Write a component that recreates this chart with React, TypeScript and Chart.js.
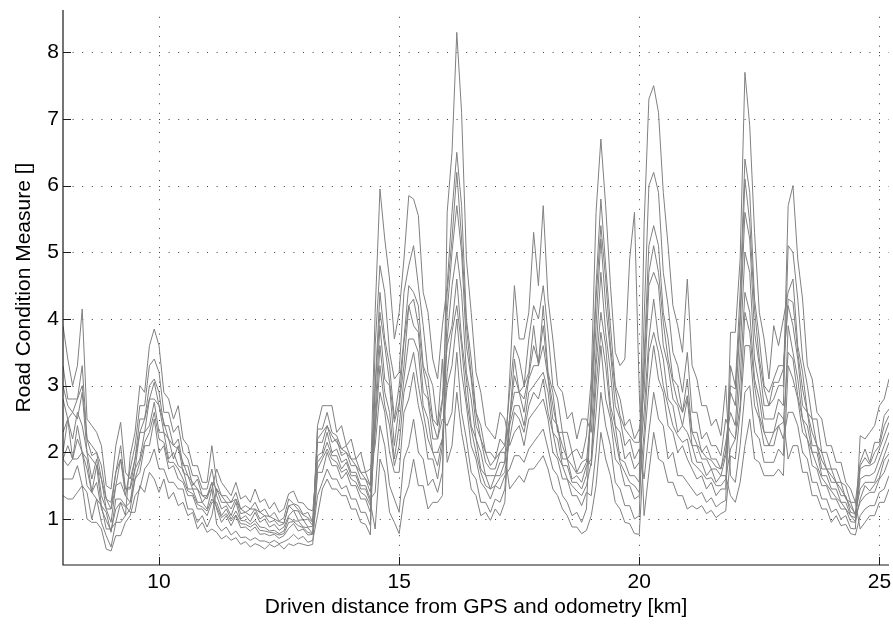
import React, { useEffect, useRef } from "react";
import { Chart, registerables } from "chart.js";

Chart.register(...registerables);

// Distance along the road [km]
const DIST: number[] = [
  8.0, 8.1, 8.2, 8.3, 8.4, 8.5, 8.6, 8.7, 8.8, 8.9,
  9.0, 9.1, 9.2, 9.3, 9.4, 9.5, 9.6, 9.7, 9.8, 9.9,
  10.0, 10.1, 10.2, 10.3, 10.4, 10.5, 10.6, 10.7, 10.8, 10.9,
  11.0, 11.1, 11.2, 11.3, 11.4, 11.5, 11.6, 11.7, 11.8, 11.9,
  12.0, 12.1, 12.2, 12.3, 12.4, 12.5, 12.6, 12.7, 12.8, 12.9,
  13.0, 13.1, 13.2, 13.3, 13.4, 13.5, 13.6, 13.7, 13.8, 13.9,
  14.0, 14.1, 14.2, 14.3, 14.4, 14.5, 14.6, 14.7, 14.8, 14.9,
  15.0, 15.1, 15.2, 15.3, 15.4, 15.5, 15.6, 15.7, 15.8, 15.9,
  16.0, 16.1, 16.2, 16.3, 16.4, 16.5, 16.6, 16.7, 16.8, 16.9,
  17.0, 17.1, 17.2, 17.3, 17.4, 17.5, 17.6, 17.7, 17.8, 17.9,
  18.0, 18.1, 18.2, 18.3, 18.4, 18.5, 18.6, 18.7, 18.8, 18.9,
  19.0, 19.1, 19.2, 19.3, 19.4, 19.5, 19.6, 19.7, 19.8, 19.9,
  20.0, 20.1, 20.2, 20.3, 20.4, 20.5, 20.6, 20.7, 20.8, 20.9,
  21.0, 21.1, 21.2, 21.3, 21.4, 21.5, 21.6, 21.7, 21.8, 21.9,
  22.0, 22.1, 22.2, 22.3, 22.4, 22.5, 22.6, 22.7, 22.8, 22.9,
  23.0, 23.1, 23.2, 23.3, 23.4, 23.5, 23.6, 23.7, 23.8, 23.9,
  24.0, 24.1, 24.2, 24.3, 24.4, 24.5, 24.6, 24.7, 24.8, 24.9,
  25.0, 25.1, 25.2,
];

// Road condition measure, one array per drive
const RUN1: number[] = [
  2.0, 2.5, 1.9, 2.4, 2.0, 1.9, 1.4, 1.8, 1.2, 1.1, 0.8, 1.3, 1.3, 1.2,
  1.1, 1.1, 1.5, 1.4, 1.7, 1.6, 1.4, 1.6, 1.3, 1.4, 1.2, 1.25, 1.05, 1.1, 0.85, 0.95, 0.8, 0.85,
  0.8, 0.7, 0.75, 0.68, 0.72, 0.62, 0.66, 0.58, 0.63, 0.6, 0.55, 0.62, 0.58, 0.62, 0.55, 0.63, 0.6, 0.64, 0.62, 0.6, 0.62,
  1.7, 1.7, 2.0, 1.8, 1.8, 1.6, 1.7, 1.5, 1.5, 1.3, 1.3, 1.1,
  2.6, 3.9, 3.1, 3.0, 2.1, 2.7, 3.3, 4.2, 3.9, 3.8, 2.9, 2.8, 2.2, 2.2, 2.5,
  2.4, 2.6, 3.5, 2.6, 2.2, 1.7, 1.6, 1.25, 1.25, 1.1, 1.3, 1.25, 1.45,
  2.5, 3.4, 2.9, 3.0, 3.2, 3.9, 3.3, 4.2, 3.2, 2.9, 2.3, 2.3, 1.9, 2.0, 1.7, 1.85, 1.9,
  1.8, 2.6, 3.6, 2.8, 2.5, 1.9, 1.8, 1.5, 1.5, 1.3, 1.35,
  4.0, 6.0, 6.2, 5.9, 4.7, 4.2, 3.5, 3.3, 2.9, 3.5, 2.6, 2.6, 2.2, 2.3, 2.1, 2.1, 1.95, 2.5,
  2.3, 2.2, 3.1, 4.4, 4.1, 3.1, 2.8, 2.3, 2.3, 2.3, 2.6, 2.5,
  1.9, 2.1, 2.1, 1.7, 1.7, 1.35, 1.35, 1.15, 1.15, 0.95, 1.05, 0.9, 0.92, 0.78, 0.76,
  1.05, 1.15, 1.2, 1.2, 1.4, 1.45, 1.65,
];

const RUN2: number[] = [
  1.6, 1.6, 1.6, 1.8, 1.5, 1.4, 1.0, 1.3, 0.95, 0.75, 0.58, 0.95, 0.95, 1.05,
  1.15, 1.6, 1.7, 2.1, 2.1, 2.5, 2.0, 2.1, 1.75, 1.8, 1.6, 1.55, 1.35, 1.35, 1.15, 1.15, 1.05, 1.25,
  1.25, 1.05, 1.15, 1.0, 1.12, 0.98, 0.97, 0.92, 0.98, 0.88, 0.87, 0.82, 0.83, 0.78, 0.82, 1.02, 0.97, 0.97, 0.88, 0.87, 0.78,
  2.4, 2.7, 2.7, 2.7, 2.3, 2.4, 2.1, 2.2, 1.9, 2.0, 1.7, 1.75,
  2.1, 2.9, 2.6, 2.0, 1.7, 1.7, 2.6, 2.8, 3.2, 2.7, 2.4, 1.9, 1.9, 1.6, 2.1,
  3.7, 4.5, 5.0, 4.4, 3.2, 2.8, 2.2, 2.0, 1.65, 1.65, 1.65, 1.85, 1.85,
  2.4, 2.7, 2.7, 2.4, 2.9, 3.0, 3.1, 3.2, 2.9, 2.3, 2.2, 1.8, 1.8, 1.55, 1.55, 1.45, 1.65,
  2.6, 3.9, 5.2, 4.2, 3.5, 2.7, 2.5, 2.1, 2.2, 1.9, 2.05,
  1.6, 2.3, 2.9, 2.5, 2.4, 1.9, 2.0, 1.65, 1.65, 1.55, 1.45, 1.35, 1.4, 1.25, 1.32, 1.18, 1.24, 1.28,
  3.3, 3.0, 4.4, 6.4, 5.9, 4.3, 3.7, 3.0, 2.9, 3.1, 3.3, 3.3,
  4.2, 3.9, 3.4, 2.7, 2.6, 2.1, 2.1, 1.75, 1.75, 1.55, 1.55, 1.35, 1.35, 1.1, 1.08,
  1.45, 1.55, 1.55, 1.55, 1.75, 1.95, 2.15,
];

const RUN3: number[] = [
  3.3, 2.8, 2.8, 2.8, 3.3, 2.2, 2.1, 2.0, 1.8, 1.3, 1.25, 1.7, 2.1, 1.45,
  1.45, 1.75, 2.3, 2.3, 2.8, 2.8, 2.7, 2.3, 2.2, 1.9, 2.1, 1.7, 1.65, 1.45, 1.45, 1.25, 1.35, 1.45,
  0.92, 0.82, 0.88, 0.76, 0.82, 0.72, 0.73, 0.68, 0.72, 0.67, 0.67, 0.64, 0.68, 0.63, 0.66, 0.7, 0.77, 0.7, 0.74, 0.65, 0.68,
  1.05, 1.45, 1.6, 1.45, 1.45, 1.35, 1.35, 1.15, 1.15, 0.95, 0.92, 0.76,
  3.0, 4.4, 3.7, 3.3, 2.5, 3.0, 3.7, 4.5, 4.4, 4.2, 3.3, 3.1, 2.5, 2.4, 2.8,
  3.6, 3.9, 4.6, 3.7, 3.1, 2.4, 2.2, 1.75, 1.65, 1.45, 1.65, 1.65, 1.85,
  3.1, 4.5, 3.7, 3.7, 4.1, 5.3, 4.5, 5.7, 4.3, 3.7, 3.0, 2.9, 2.5, 2.6, 2.2, 2.5, 2.5,
  2.3, 3.5, 4.7, 3.8, 3.2, 2.4, 2.3, 1.9, 2.0, 1.75, 1.85,
  2.6, 3.7, 4.3, 3.7, 3.4, 2.8, 2.7, 2.3, 2.4, 2.3, 2.1, 1.85, 1.85, 1.65, 1.75, 1.55, 1.65, 1.65,
  1.35, 1.25, 1.55, 2.1, 2.5, 1.9, 1.85, 1.65, 1.65, 1.65, 1.75, 1.65,
  3.3, 3.1, 2.8, 2.3, 2.2, 1.8, 1.75, 1.5, 1.5, 1.3, 1.3, 1.15, 1.15, 0.96, 0.95,
  1.75, 1.8, 1.8, 1.85, 2.05, 2.25, 2.45,
];

const RUN4: number[] = [
  1.35, 1.3, 1.3, 1.4, 1.5, 1.0, 0.95, 0.95, 0.85, 0.55, 0.52, 0.75, 0.75, 0.95,
  1.05, 1.35, 1.45, 1.75, 1.85, 2.05, 1.75, 1.75, 1.55, 1.55, 1.45, 1.45, 1.15, 1.15, 0.95, 1.05, 0.88, 1.05,
  1.45, 1.25, 1.25, 1.15, 1.3, 1.08, 1.1, 1.05, 1.15, 1.0, 1.05, 0.95, 0.98, 0.9, 0.93, 1.2, 1.13, 1.12, 0.98, 1.0, 0.9,
  1.95, 2.0, 2.3, 2.0, 2.05, 1.85, 1.9, 1.7, 1.7, 1.5, 1.5, 1.3,
  1.4, 2.4, 2.1, 1.5, 1.3, 1.1, 1.9, 2.1, 2.5, 2.0, 1.9, 1.5, 1.6, 1.4, 1.7,
  4.1, 5.0, 5.7, 5.0, 3.6, 3.1, 2.4, 2.2, 1.85, 1.75, 1.75, 2.0, 2.0,
  1.45, 1.55, 1.65, 1.55, 1.75, 1.75, 1.85, 1.95, 1.75, 1.45, 1.35, 1.15, 1.05, 0.88, 0.88, 0.78, 0.83,
  1.05, 1.5, 2.3, 1.9, 1.65, 1.25, 1.15, 0.95, 0.93, 0.78, 0.77,
  2.1, 3.0, 3.6, 3.1, 2.9, 2.4, 2.3, 2.0, 2.1, 1.9, 1.75, 1.6, 1.65, 1.45, 1.55, 1.35, 1.45, 1.45,
  3.8, 3.8, 4.9, 7.7, 6.9, 5.3, 4.1, 3.7, 3.1, 3.9, 3.6, 4.0,
  4.4, 4.6, 3.6, 3.2, 2.6, 2.5, 2.1, 2.0, 1.75, 1.75, 1.55, 1.55, 1.3, 1.25, 1.05,
  1.25, 1.35, 1.4, 1.4, 1.6, 1.7, 1.9,
];

const RUN5: number[] = [
  3.9, 3.4, 3.0, 3.3, 4.15, 2.5, 2.4, 2.3, 2.1, 1.5, 1.45, 2.1, 2.45, 1.7,
  1.6, 1.9, 2.5, 2.5, 3.0, 3.1, 2.9, 2.4, 2.4, 2.1, 2.2, 1.8, 1.8, 1.5, 1.6, 1.35, 1.35, 1.55,
  1.15, 0.95, 1.05, 0.9, 1.05, 0.87, 0.88, 0.82, 0.88, 0.77, 0.78, 0.75, 0.77, 0.71, 0.75, 0.86, 0.93, 0.82, 0.85, 0.76, 0.77,
  1.35, 1.55, 1.75, 1.6, 1.6, 1.45, 1.5, 1.3, 1.3, 1.1, 1.1, 0.9,
  3.6, 4.8, 4.4, 3.5, 3.1, 3.2, 4.4, 4.8, 5.1, 4.5, 3.9, 3.2, 3.0, 2.4, 3.4,
  1.85, 2.1, 2.9, 2.3, 1.9, 1.45, 1.35, 1.05, 1.1, 0.98, 1.15, 1.05, 1.25,
  2.5, 2.9, 2.9, 2.6, 3.1, 3.3, 3.3, 3.6, 3.1, 2.5, 2.4, 1.9, 1.9, 1.6, 1.65, 1.55, 1.8,
  1.9, 3.3, 4.1, 3.6, 2.7, 2.4, 1.9, 1.85, 1.65, 1.65, 1.55,
  5.4, 7.3, 7.5, 7.1, 5.9, 5.1, 4.2, 3.9, 3.5, 4.6, 3.3, 3.1, 2.7, 2.7, 2.4, 2.5, 2.25, 3.0,
  1.65, 1.55, 2.1, 2.9, 3.0, 2.3, 2.2, 1.85, 1.85, 1.85, 2.05, 1.95,
  3.9, 3.5, 3.1, 2.5, 2.4, 2.0, 2.0, 1.65, 1.65, 1.45, 1.45, 1.25, 1.25, 1.05, 1.02,
  1.6, 1.65, 1.65, 1.7, 1.9, 2.1, 2.3,
];

const RUN6: number[] = [
  1.9, 1.8, 1.9, 1.9, 2.0, 1.5, 1.4, 1.3, 1.2, 0.85, 0.85, 0.95, 1.25, 1.05,
  1.95, 2.3, 3.0, 2.9, 3.6, 3.85, 3.6, 2.9, 2.8, 2.5, 2.7, 2.2, 2.1, 1.8, 1.8, 1.55, 1.55, 2.1,
  1.55, 1.35, 1.35, 1.25, 1.4, 1.15, 1.2, 1.15, 1.25, 1.1, 1.15, 1.03, 1.1, 0.97, 1.02, 1.3, 1.23, 1.2, 1.07, 1.1, 0.95,
  2.15, 2.15, 2.4, 2.15, 2.2, 1.95, 2.0, 1.8, 1.8, 1.6, 1.6, 1.4,
  2.4, 3.6, 2.9, 2.6, 1.9, 2.4, 3.1, 3.7, 3.7, 3.5, 2.7, 2.5, 2.0, 2.0, 2.2,
  3.0, 3.3, 4.0, 3.2, 2.7, 2.1, 1.9, 1.55, 1.45, 1.3, 1.5, 1.45, 1.65,
  1.75, 1.95, 1.95, 1.85, 2.05, 2.15, 2.25, 2.35, 2.05, 1.75, 1.65, 1.35, 1.25, 1.05, 1.1, 0.95, 1.15,
  2.9, 4.5, 5.8, 4.8, 3.9, 3.0, 2.8, 2.4, 2.5, 2.2, 2.35,
  2.9, 4.5, 4.7, 4.5, 3.6, 3.3, 2.8, 2.7, 2.4, 2.8, 2.1, 2.1, 1.9, 1.9, 1.75, 1.75, 1.65, 1.95,
  2.9, 2.7, 3.9, 5.6, 5.2, 3.8, 3.3, 2.7, 2.7, 2.8, 3.0, 3.0,
  5.7, 6.0, 4.9, 4.3, 3.3, 3.1, 2.6, 2.5, 2.1, 2.1, 1.85, 1.85, 1.55, 1.45, 1.25,
  0.85, 0.95, 1.05, 1.05, 1.25, 1.25, 1.45,
];

const RUN7: number[] = [
  2.3, 2.5, 2.2, 2.6, 2.4, 2.0, 1.6, 1.9, 1.35, 1.15, 0.95, 1.5, 1.55, 1.35,
  1.25, 1.75, 1.9, 2.3, 2.4, 2.75, 2.3, 2.3, 1.9, 2.0, 1.8, 1.75, 1.45, 1.45, 1.25, 1.25, 1.15, 1.45,
  1.75, 1.55, 1.45, 1.35, 1.55, 1.3, 1.35, 1.25, 1.45, 1.25, 1.3, 1.15, 1.25, 1.1, 1.15, 1.38, 1.42, 1.25, 1.24, 1.15, 1.12,
  1.85, 1.95, 2.15, 1.95, 1.95, 1.75, 1.85, 1.65, 1.65, 1.45, 1.45, 1.25,
  0.85, 1.9, 1.7, 1.1, 0.95, 0.78, 1.3, 1.5, 1.9, 1.5, 1.5, 1.15, 1.25, 1.25, 1.35,
  5.6, 6.5, 8.3, 7.1, 4.9, 4.1, 3.2, 2.9, 2.4, 2.3, 2.2, 2.6, 2.5,
  2.1, 2.3, 2.4, 2.1, 2.5, 2.6, 2.7, 2.8, 2.5, 2.0, 1.9, 1.6, 1.6, 1.35, 1.35, 1.2, 1.4,
  1.35, 2.0, 2.9, 2.4, 2.1, 1.55, 1.45, 1.2, 1.2, 1.0, 1.05,
  3.4, 5.1, 5.4, 5.1, 4.1, 3.7, 3.1, 3.0, 2.6, 3.1, 2.3, 2.3, 2.0, 2.1, 1.9, 1.9, 1.75, 2.15,
  2.6, 2.4, 3.5, 5.0, 4.7, 3.4, 3.0, 2.5, 2.5, 2.5, 2.8, 2.7,
  5.1, 5.0, 4.3, 3.4, 3.0, 2.5, 2.5, 2.0, 2.0, 1.75, 1.75, 1.55, 1.5, 1.25, 1.25,
  1.85, 2.05, 1.85, 2.15, 2.15, 2.55, 2.65,
];

const RUN8: number[] = [
  2.8, 2.5, 2.6, 2.5, 2.9, 2.0, 1.9, 1.8, 1.6, 1.15, 1.15, 1.5, 1.9, 1.35,
  1.75, 2.1, 2.7, 2.7, 3.3, 3.4, 3.2, 2.6, 2.6, 2.3, 2.4, 2.0, 1.9, 1.65, 1.65, 1.45, 1.45, 1.75,
  1.35, 1.15, 1.2, 1.05, 1.25, 1.0, 1.05, 0.96, 1.1, 0.95, 1.0, 0.88, 0.92, 0.83, 0.88, 1.05, 1.13, 0.98, 0.99, 0.88, 0.89,
  2.35, 2.35, 2.6, 2.3, 2.25, 2.05, 2.1, 1.9, 1.9, 1.7, 1.7, 1.5,
  4.1, 5.95, 5.2, 4.6, 3.7, 4.1, 4.9, 5.85, 5.8, 5.55, 4.4, 4.1, 3.4, 3.1, 3.9,
  4.5, 5.6, 6.5, 5.7, 4.0, 3.4, 2.6, 2.4, 2.0, 2.0, 1.9, 2.2, 2.1,
  2.9, 3.6, 3.4, 3.0, 3.7, 4.2, 4.0, 4.5, 3.8, 3.0, 2.8, 2.3, 2.3, 2.0, 2.05, 1.9, 2.25,
  3.1, 5.6, 6.7, 5.7, 4.5, 3.5, 3.3, 3.4, 4.9, 5.6, 2.9,
  1.05, 1.7, 2.3, 1.9, 1.85, 1.55, 1.55, 1.35, 1.35, 1.15, 1.2, 1.15, 1.2, 1.08, 1.13, 1.02, 1.08, 1.12,
  1.95, 1.9, 2.6, 3.6, 3.6, 2.7, 2.5, 2.1, 2.1, 2.1, 2.4, 2.2,
  2.6, 2.6, 2.4, 2.0, 1.9, 1.55, 1.55, 1.3, 1.3, 1.1, 1.15, 1.0, 1.05, 0.86, 0.85,
  2.25, 2.2, 2.3, 2.4, 2.7, 2.8, 3.1,
];

const RUN9: number[] = [
  1.9, 2.1, 1.9, 2.2, 2.0, 1.75, 1.4, 1.55, 1.15, 0.98, 0.82, 1.15, 1.25, 1.18,
  1.25, 1.6, 1.85, 2.15, 2.3, 2.6, 2.2, 2.15, 1.85, 1.85, 1.75, 1.6, 1.42, 1.38, 1.22, 1.18, 1.12, 1.3,
  1.18, 1.02, 1.08, 0.97, 1.06, 0.93, 0.92, 0.88, 0.93, 0.83, 0.82, 0.8, 0.79, 0.76, 0.78, 0.95, 0.96, 0.9, 0.87, 0.8, 0.78,
  1.75, 1.9, 2.05, 1.9, 1.85, 1.7, 1.75, 1.6, 1.55, 1.4, 1.35, 1.2,
  2.3, 3.3, 2.7, 2.4, 1.8, 2.1, 2.9, 3.2, 3.5, 3.0, 2.6, 2.2, 2.0, 1.8, 2.2,
  3.2, 3.8, 4.2, 3.6, 2.8, 2.35, 2.0, 1.7, 1.5, 1.45, 1.5, 1.62, 1.7,
  2.2, 2.6, 2.5, 2.3, 2.7, 2.9, 2.8, 3.1, 2.6, 2.3, 1.95, 1.8, 1.6, 1.5, 1.42, 1.35, 1.5,
  1.85, 3.0, 3.8, 3.3, 2.6, 2.2, 1.85, 1.7, 1.55, 1.5, 1.4,
  2.3, 3.5, 3.8, 3.5, 3.0, 2.7, 2.4, 2.25, 2.15, 2.2, 1.85, 1.78, 1.7, 1.6, 1.62, 1.5, 1.5, 1.6,
  2.05, 2.2, 2.7, 4.1, 3.8, 3.0, 2.55, 2.3, 2.1, 2.3, 2.4, 2.45,
  3.5, 3.4, 2.85, 2.5, 2.2, 2.0, 1.8, 1.62, 1.52, 1.42, 1.32, 1.25, 1.15, 1.05, 0.96,
  1.3, 1.5, 1.42, 1.52, 1.62, 1.88, 1.98,
];

const RUN10: number[] = [
  3.0, 2.7, 2.6, 2.8, 3.0, 2.2, 1.95, 2.0, 1.6, 1.3, 1.15, 1.7, 1.9, 1.45,
  1.48, 1.9, 2.3, 2.5, 2.8, 3.05, 2.7, 2.45, 2.2, 2.1, 2.05, 1.85, 1.65, 1.55, 1.45, 1.35, 1.3, 1.55,
  1.45, 1.35, 1.25, 1.25, 1.3, 1.15, 1.1, 1.15, 1.15, 1.1, 1.05, 1.04, 1.0, 0.96, 0.94, 1.2, 1.22, 1.14, 1.06, 1.02, 0.95,
  2.2, 2.3, 2.4, 2.25, 2.15, 2.05, 2.0, 1.9, 1.8, 1.7, 1.6, 1.5,
  2.95, 4.1, 3.6, 3.05, 2.45, 2.75, 3.65, 4.2, 4.3, 3.9, 3.25, 2.85, 2.45, 2.2, 2.75,
  4.4, 5.2, 6.2, 5.2, 3.9, 3.15, 2.6, 2.2, 2.0, 1.8, 1.9, 2.0, 2.1,
  2.5, 3.15, 2.9, 2.8, 3.15, 3.6, 3.35, 3.9, 3.15, 2.7, 2.35, 2.1, 1.9, 1.8, 1.68, 1.7, 1.85,
  2.65, 4.3, 5.4, 4.6, 3.6, 2.95, 2.55, 2.35, 2.25, 2.15, 2.15,
  3.25, 4.7, 5.1, 4.7, 3.95, 3.4, 3.05, 2.75, 2.6, 2.85, 2.3, 2.12, 2.02, 1.92, 1.88, 1.78, 1.75, 2.0,
  3.0, 2.95, 4.05, 6.1, 5.45, 4.15, 3.4, 2.95, 2.7, 3.05, 3.05, 3.25,
  4.3, 4.25, 3.5, 2.95, 2.6, 2.3, 2.1, 1.88, 1.75, 1.65, 1.55, 1.45, 1.32, 1.18, 1.08,
  1.8, 1.92, 1.82, 2.0, 2.1, 2.4, 2.55,
];

const RUNS: number[][] = [RUN1, RUN2, RUN3, RUN4, RUN5, RUN6, RUN7, RUN8, RUN9, RUN10];

const X_TICKS: number[] = [10, 15, 20, 25];
const Y_TICKS: number[] = [1, 2, 3, 4, 5, 6, 7, 8];

const X_MIN = 8.0;
const X_MAX = 25.2;
const Y_MIN = 0.31;
const Y_MAX = 8.635;

const X_TITLE = "Driven distance from GPS and odometry [km]";
const Y_TITLE = "Road Condition Measure []";

const FONT_FAMILY = '"Liberation Sans", Arial, Helvetica, sans-serif';

const matlabAxes = {
  id: "matlabAxes",
  beforeDatasetsDraw(chart: any) {
    const { ctx, chartArea: a, scales } = chart;
    ctx.save();
    ctx.strokeStyle = "#3a3a3a";
    ctx.lineWidth = 1;
    ctx.setLineDash([1, 8.6]);
    for (const v of X_TICKS) {
      const px = Math.round(scales.x.getPixelForValue(v)) + 0.5;
      ctx.beginPath();
      ctx.moveTo(px, a.bottom);
      ctx.lineTo(px, a.top);
      ctx.stroke();
    }
    for (const v of Y_TICKS) {
      const py = Math.round(scales.y.getPixelForValue(v)) + 0.5;
      ctx.beginPath();
      ctx.moveTo(a.left, py);
      ctx.lineTo(a.right, py);
      ctx.stroke();
    }
    ctx.restore();
  },
  afterDatasetsDraw(chart: any) {
    const { ctx, chartArea: a, scales } = chart;
    ctx.save();
    ctx.strokeStyle = "#1a1a1a";
    ctx.lineWidth = 1.2;
    ctx.setLineDash([]);
    ctx.beginPath();
    ctx.moveTo(a.left, a.top);
    ctx.lineTo(a.left, a.bottom);
    ctx.lineTo(a.right, a.bottom);
    ctx.stroke();
    ctx.lineWidth = 1;
    const tl = 8;
    for (const v of X_TICKS) {
      const px = Math.round(scales.x.getPixelForValue(v)) + 0.5;
      ctx.beginPath();
      ctx.moveTo(px, a.bottom);
      ctx.lineTo(px, a.bottom - tl);
      ctx.stroke();
    }
    for (const v of Y_TICKS) {
      const py = Math.round(scales.y.getPixelForValue(v)) + 0.5;
      ctx.beginPath();
      ctx.moveTo(a.left, py);
      ctx.lineTo(a.left + tl, py);
      ctx.stroke();
    }
    ctx.restore();
  },
};

export default function App() {
  const canvasRef = useRef<HTMLCanvasElement | null>(null);

  useEffect(() => {
    const canvas = canvasRef.current;
    if (!canvas) return;
    const datasets = RUNS.map((run, k) => ({
      label: `Run ${k + 1}`,
      data: run.map((y, i) => ({ x: DIST[i], y })),
      borderColor: "#808080",
      backgroundColor: "#808080",
      borderWidth: 1,
      pointRadius: 0,
      tension: 0,
      fill: false,
    }));

    const chart = new Chart(canvas, {
      type: "line",
      data: { datasets },
      plugins: [matlabAxes],
      options: {
        responsive: false,
        animation: false,
        events: [],
        layout: { padding: { top: 10, right: 4, left: 0, bottom: 0 } },
        plugins: {
          legend: { display: false },
          tooltip: { enabled: false },
        },
        scales: {
          x: {
            type: "linear",
            min: X_MIN,
            max: X_MAX,
            grid: { display: false, drawTicks: false },
            border: { display: false },
            afterBuildTicks: (s: any) => {
              s.ticks = X_TICKS.map((v) => ({ value: v }));
            },
            afterFit: (s: any) => {
              s.height = 61;
              s.paddingLeft = 0;
              s.paddingRight = 0;
            },
            ticks: {
              autoSkip: false,
              maxRotation: 0,
              padding: 5,
              color: "#000",
              font: { family: FONT_FAMILY, size: 21 },
              callback: (v: any) => String(v),
            },
            title: {
              display: true,
              text: X_TITLE,
              color: "#000",
              font: { family: FONT_FAMILY, size: 21 },
              padding: { top: 0, bottom: 6 },
            },
          },
          y: {
            type: "linear",
            min: Y_MIN,
            max: Y_MAX,
            grid: { display: false, drawTicks: false },
            border: { display: false },
            afterBuildTicks: (s: any) => {
              s.ticks = Y_TICKS.map((v) => ({ value: v }));
            },
            afterFit: (s: any) => {
              s.width = 63;
              s.paddingTop = 0;
              s.paddingBottom = 0;
            },
            ticks: {
              autoSkip: false,
              padding: 4,
              color: "#000",
              font: { family: FONT_FAMILY, size: 21 },
              callback: (v: any) => String(v),
            },
            title: {
              display: true,
              text: Y_TITLE,
              color: "#000",
              font: { family: FONT_FAMILY, size: 21 },
              padding: { top: 12, bottom: 0 },
            },
          },
        },
      },
    });
    return () => chart.destroy();
  }, []);

  return (
    <div style={{ position: "fixed", left: 0, top: 0, width: 893, height: 626, background: "#fff" }}>
      <canvas ref={canvasRef} width={893} height={626} style={{ display: "block" }} />
    </div>
  );
}
